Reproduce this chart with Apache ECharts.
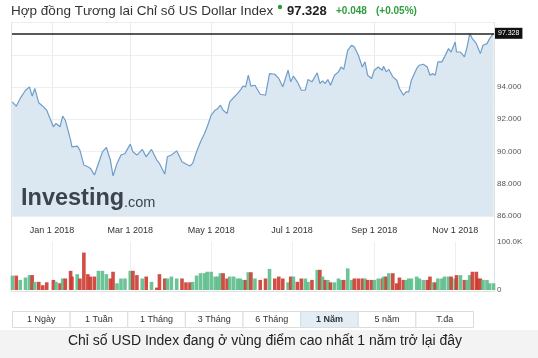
<!DOCTYPE html>
<html><head><meta charset="utf-8">
<script src="https://cdn.jsdelivr.net/npm/echarts@6/dist/echarts.min.js"></script>
<style>html,body{margin:0;padding:0;background:#fff}#c{width:538px;height:358px}</style>
</head><body><div id="c"></div>
<script>
const dates = ['2017-12-02','2017-12-05','2017-12-08','2017-12-12','2017-12-15','2017-12-17','2017-12-19','2017-12-22','2017-12-25','2017-12-28',
'2018-01-02','2018-01-04','2018-01-07','2018-01-09','2018-01-11','2018-01-15','2018-01-16','2018-01-20','2018-01-22','2018-01-25',
'2018-01-28','2018-01-30','2018-02-02','2018-02-05','2018-02-08','2018-02-11','2018-02-14','2018-02-16','2018-02-19','2018-02-22',
'2018-02-25','2018-03-01','2018-03-03','2018-03-06','2018-03-10','2018-03-13','2018-03-17','2018-03-21','2018-03-23','2018-03-27',
'2018-03-29','2018-04-01','2018-04-05','2018-04-09','2018-04-12','2018-04-15','2018-04-17','2018-04-20','2018-04-23','2018-04-26',
'2018-04-28','2018-05-01','2018-05-04','2018-05-06','2018-05-08','2018-05-10','2018-05-13','2018-05-15','2018-05-18','2018-05-21',
'2018-05-23','2018-05-25','2018-05-27','2018-05-29','2018-05-31','2018-06-03','2018-06-07','2018-06-11','2018-06-14','2018-06-18',
'2018-06-21','2018-06-24','2018-06-28','2018-06-30','2018-07-02','2018-07-05','2018-07-08','2018-07-11','2018-07-13','2018-07-16',
'2018-07-20','2018-07-22','2018-07-24','2018-07-26','2018-07-28','2018-07-30','2018-08-02','2018-08-05','2018-08-07','2018-08-09',
'2018-08-12','2018-08-15','2018-08-17','2018-08-20','2018-08-23','2018-08-25','2018-08-27','2018-08-30','2018-09-01','2018-09-04',
'2018-09-07','2018-09-08','2018-09-10','2018-09-12','2018-09-15','2018-09-18','2018-09-20','2018-09-23','2018-09-25','2018-09-27',
'2018-09-29','2018-10-03','2018-10-05','2018-10-08','2018-10-11','2018-10-13','2018-10-15','2018-10-17','2018-10-19','2018-10-22',
'2018-10-24','2018-10-27','2018-10-29','2018-11-01','2018-11-02','2018-11-05','2018-11-08','2018-11-10','2018-11-12','2018-11-14',
'2018-11-17','2018-11-18','2018-11-20','2018-11-22','2018-11-25','2018-11-27','2018-11-30'];

const prices = [93.08,92.81,93.29,93.80,94.01,93.43,93.91,93.02,92.81,92.56,
91.53,91.74,91.53,92.19,91.94,90.71,90.29,90.33,90.09,89.16,
89.05,88.95,88.54,89.26,89.98,90.25,89.47,88.48,89.26,89.78,
89.88,90.46,89.98,89.78,90.13,89.67,90.13,89.47,89.26,88.60,
89.67,89.78,90.04,89.36,89.22,89.10,89.26,89.98,90.60,91.12,
91.53,92.25,92.56,92.67,92.87,92.56,92.36,93.08,93.35,93.60,
93.80,94.05,94.01,94.73,94.05,94.11,93.55,93.49,94.83,94.79,
94.53,94.01,95.04,94.32,94.67,94.32,93.80,93.80,94.46,94.32,
94.88,94.22,94.38,94.22,94.46,94.11,94.73,94.94,95.24,95.09,
96.28,96.59,96.48,95.97,95.24,95.56,94.73,94.53,95.04,95.24,
95.04,95.29,94.94,95.09,94.63,94.42,93.91,93.49,93.70,93.70,
94.42,95.15,95.35,95.41,95.24,94.73,94.83,94.73,95.56,95.56,
95.87,96.38,96.17,96.79,96.17,96.17,95.87,96.48,97.31,97.00,
96.69,96.48,96.07,96.59,96.69,97.00,97.33];

// volume in thousands
const volumes = [30,30,21,26,31,31,17,17,10,16,
21,17,14,24,24,40,28,33,24,78,
33,28,28,40,40,33,24,38,14,24,
24,40,40,31,24,28,17,5,33,24,
24,28,24,24,16,16,17,30,35,35,
38,38,28,28,35,35,24,28,28,24,
24,21,21,37,37,24,21,24,44,24,
28,24,16,28,28,17,24,24,17,21,
42,42,28,21,21,16,16,24,21,21,
45,21,24,24,24,24,21,21,21,24,
24,28,28,35,35,14,26,21,21,24,
24,28,24,21,21,28,16,16,24,24,
28,28,28,24,31,31,21,21,31,38,
38,24,24,21,21,14,14];

const lastPrice = 97.328;
const change = '+0.048';
const changePct = '(+0.05%)';
const tickDates = ['2018-01-01','2018-03-01','2018-05-01','2018-07-01','2018-09-01','2018-11-01'];
const priceLabels = [86,88,90,92,94];
const buttons = ['1 Ngày','1 Tuần','1 Tháng','3 Tháng','6 Tháng','1 Năm','5 năm','T.đa'];
const activeButton = '1 Năm';
const titleText = 'Hợp đồng Tương lai Chỉ số US Dollar Index';
const captionText = 'Chỉ số USD Index đang ở vùng điểm cao nhất 1 năm trở lại đây';

function ts(s){const p=s.split('-').map(Number);return new Date(p[0],p[1]-1,p[2]).getTime();}
const DAY = 864e5;
const jan1 = ts('2018-01-01');
const xMin = jan1 - 30.2*DAY, xMax = jan1 + 333.3*DAY;
const MONTHS = ['Jan','Feb','Mar','Apr','May','Jun','Jul','Aug','Sep','Oct','Nov','Dec'];
const tickTs = tickDates.map(ts);
const FONT = '"Liberation Sans", Arial, sans-serif';
const GREEN = '#5cbd8b', RED = '#cc3b30';

const priceData = dates.map((d,i)=>[ts(d), prices[i]]);
const volData = dates.map((d,i)=>({value:[ts(d), volumes[i]], itemStyle:{color: (i===0 || prices[i]>=prices[i-1]) ? GREEN : RED}}));

const chart = echarts.init(document.getElementById('c'));

const graphics = [
  {type:'rect', shape:{x:0,y:330,width:538,height:28}, style:{fill:'#f3f3f3'}, z:-10},
  {type:'rect', shape:{x:11.5,y:22.5,width:483,height:269}, style:{fill:'none',stroke:'#e2e2e2',lineWidth:1}, z:-5},
  {type:'text', x:11, y:11, style:{text:titleText, font:'13.5px '+FONT, fill:'#333', verticalAlign:'middle'}},
  {type:'circle', shape:{cx:280, cy:7, r:2.2}, style:{fill:'#2a9d3a'}},
  {type:'text', x:287, y:11, style:{text:String(lastPrice), font:'bold 13px '+FONT, fill:'#222', verticalAlign:'middle'}},
  {type:'text', x:336, y:11, style:{text:change, font:'bold 10px '+FONT, fill:'#2f9e3f', verticalAlign:'middle'}},
  {type:'text', x:376, y:11, style:{text:changePct, font:'bold 10px '+FONT, fill:'#2f9e3f', verticalAlign:'middle'}},
  {type:'text', x:21, y:199, z:50, style:{text:'Investing', font:'bold 23.5px '+FONT, fill:'#3b444d', verticalAlign:'middle'}},
  {type:'text', x:124, y:203, z:50, style:{text:'.com', font:'14.5px '+FONT, fill:'#3b444d', verticalAlign:'middle'}},
  {type:'text', x:265, y:341, style:{text:captionText, font:'14px '+FONT, fill:'#222', align:'center', verticalAlign:'middle'}}
];
const bw = (473-12)/buttons.length;
buttons.forEach((b,i)=>{
  const active = b===activeButton;
  graphics.push({type:'rect', shape:{x:12.5+i*bw, y:311.5, width:bw, height:16}, style:{fill: active?'#e3edf6':'#fff', stroke:'#dcdcdc', lineWidth:1}});
  graphics.push({type:'text', x:12.5+i*bw+bw/2, y:320, style:{text:b, font:(active?'bold ':'')+'9px '+FONT, fill:'#333', align:'center', verticalAlign:'middle'}});
});

const fmtDate = v=>{const d=new Date(v);return MONTHS[d.getMonth()]+' '+d.getDate()+' '+d.getFullYear();};

chart.setOption({
  animation:false,
  backgroundColor:'#fff',
  textStyle:{fontFamily:FONT},
  grid:[
    {left:12, right:44, top:22.5, height:193.5},
    {left:12, right:44, top:242, height:48}
  ],
  xAxis:[
    {type:'value', gridIndex:0, min:xMin, max:xMax, scale:true,
     axisLine:{show:false}, axisTick:{show:false, customValues:tickTs},
     splitLine:{show:true, lineStyle:{color:'#e9ecef'}},
     axisLabel:{customValues:tickTs, margin:10, fontSize:9, color:'#333', fontFamily:FONT, formatter:fmtDate}},
    {type:'value', gridIndex:1, min:xMin, max:xMax, scale:true,
     axisLine:{show:false}, axisTick:{show:false, customValues:tickTs},
     splitLine:{show:true, lineStyle:{color:'#eceef0'}},
     axisLabel:{show:false, customValues:tickTs}}
  ],
  yAxis:[
    {type:'value', gridIndex:0, position:'right', min:86, max:98, interval:2,
     axisLine:{show:false}, axisTick:{show:false},
     splitLine:{lineStyle:{color:'#eceef0'}},
     axisLabel:{margin:3, fontSize:8, color:'#555', fontFamily:FONT,
       formatter:v=>priceLabels.indexOf(v)>=0 ? v.toFixed(3) : ''}},
    {type:'value', gridIndex:1, position:'right', min:0, max:100, interval:100,
     axisLine:{show:true, lineStyle:{color:'#dde3ea'}}, axisTick:{show:false},
     splitLine:{show:false},
     axisLabel:{margin:3, fontSize:8, color:'#555', fontFamily:FONT,
       formatter:v=>v===0?'0':(v.toFixed(1)+'K')}}
  ],
  series:[
    {type:'line', xAxisIndex:0, yAxisIndex:0, data:priceData, showSymbol:false, smooth:false,
     lineStyle:{color:'#6f9dca', width:1.2}, areaStyle:{color:'#dce8f1', opacity:1},
     markLine:{silent:true, symbol:'none', data:[{yAxis:lastPrice}],
       lineStyle:{color:'#222', width:1.5, type:'solid'},
       label:{position:'end', distance:1, formatter:String(lastPrice), color:'#fff', backgroundColor:'#111',
         fontSize:7, padding:[2,3], fontFamily:FONT}}},
    {type:'bar', xAxisIndex:1, yAxisIndex:1, data:volData, barWidth:3.6, itemStyle:{opacity:0.9}}
  ],
  graphic:graphics
});
</script></body></html>
